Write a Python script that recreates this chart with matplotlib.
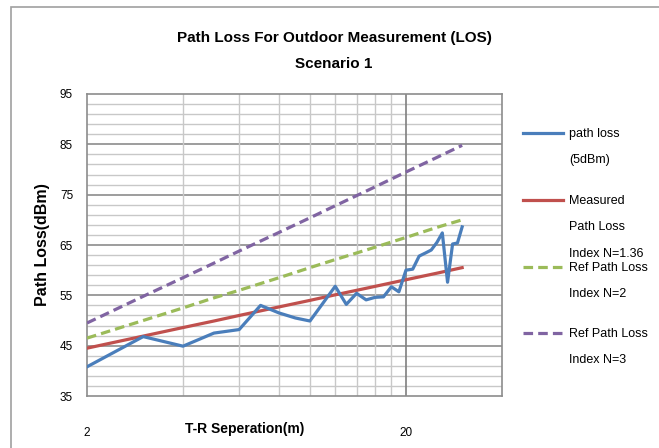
import numpy as np
import matplotlib
matplotlib.use('Agg')
import matplotlib.pyplot as plt
from matplotlib.lines import Line2D
from matplotlib.patches import Rectangle

# distances (m)
distance = [2, 3, 4, 5, 6, 7, 8, 9, 10, 11, 12, 13, 14, 15, 16, 17, 18, 19, 20,
            21, 22, 23, 24, 25, 26, 27, 28, 29, 30]
# measured path loss (5dBm)
path_loss = [40.8, 46.8, 44.9, 47.5, 48.2, 53.0, 51.5, 50.5, 49.9, 53.5, 56.8, 53.2,
             55.4, 54.1, 54.6, 54.7, 56.7, 55.7, 60.0, 60.2, 62.8, 63.4, 64.0, 65.5,
             67.4, 57.6, 65.2, 65.4, 68.6]
# fitted / reference path loss lines
ref_d = [2, 3, 4, 5, 6, 8, 10, 12, 15, 20, 25, 30]
measured_n136 = [44.5, 46.9, 48.6, 49.9, 51.0, 52.7, 54.0, 55.1, 56.4, 58.1, 59.4, 60.5]
ref_n2 = [46.5, 50.0, 52.5, 54.5, 56.0, 58.5, 60.5, 62.1, 64.0, 66.5, 68.5, 70.0]
ref_n3 = [49.5, 54.8, 58.5, 61.4, 63.8, 67.5, 70.4, 72.8, 75.7, 79.5, 82.4, 84.8]

yticks = [35, 45, 55, 65, 75, 85, 95]

c_blue = '#4a7ebb'
c_red = '#c0504d'
c_green = '#9bbb59'
c_purple = '#8064a2'

plt.rcParams['font.family'] = ['Liberation Sans', 'DejaVu Sans']

fig = plt.figure(figsize=(6.59, 4.48), dpi=100)
fig.patches.append(Rectangle((11 / 659, -0.1), 1.0, 1.0 - 7 / 448 + 0.1,
                             transform=fig.transFigure, fill=False,
                             edgecolor='#a0a0a0', linewidth=1.2))
ax = fig.add_axes([87 / 659, 1 - 396 / 448, (502 - 87) / 659, (396 - 94) / 448])

ax.plot(distance, path_loss, color=c_blue, lw=2.3, zorder=5)
ax.plot(ref_d, measured_n136, color=c_red, lw=2.3, zorder=4)
ax.plot(ref_d, ref_n2, color=c_green, lw=2.3, ls=(0, (3, 1.6)), zorder=3)
ax.plot(ref_d, ref_n3, color=c_purple, lw=2.3, ls=(0, (3, 1.6)), zorder=3)

ax.set_xscale('log')
ax.set_xlim(2, 40)
ax.set_ylim(35, 95)

# grid lines
for y in range(37, 95, 2):
    if (y - 35) % 10 != 0:
        ax.axhline(y, color='#c8c8c8', lw=1.0, zorder=1)
for y in yticks[1:-1]:
    ax.axhline(y, color='#8c8c8c', lw=1.2, zorder=1)
for x in range(4, 20, 2):
    ax.axvline(x, color='#c8c8c8', lw=1.0, zorder=1)
ax.axvline(20, color='#7f7f7f', lw=1.2, zorder=1)

ax.set_xticks([2, 20])
ax.set_xticklabels(['2', '20'])
ax.xaxis.set_minor_locator(matplotlib.ticker.NullLocator())
ax.set_yticks(yticks)
ax.tick_params(axis='both', length=0, labelsize=8.5)
ax.tick_params(axis='x', pad=22)
ax.tick_params(axis='y', pad=10)
for s in ax.spines.values():
    s.set_color('#8c8c8c')
    s.set_linewidth(1.2)

fig.text(245 / 659, 1 - 429 / 448, 'T-R Seperation(m)', ha='center', va='center',
         fontsize=10, fontweight='bold')
fig.text(42 / 659, 1 - 245 / 448, 'Path Loss(dBm)', ha='center', va='center',
         rotation=90, fontsize=11.5, fontweight='bold')

fig.text(334 / 659, 1 - 38 / 448, 'Path Loss For Outdoor Measurement (LOS)',
         ha='center', va='center', fontsize=11, fontweight='bold')
fig.text(334 / 659, 1 - 64 / 448, 'Scenario 1',
         ha='center', va='center', fontsize=11, fontweight='bold')

# legend drawn by hand
legend_items = [
    ('path loss\n(5dBm)', c_blue, '-', 133),
    ('Measured\nPath Loss\nIndex N=1.36', c_red, '-', 200),
    ('Ref Path Loss\nIndex N=2', c_green, (0, (3, 1.6)), 267),
    ('Ref Path Loss\nIndex N=3', c_purple, (0, (3, 1.6)), 333),
]
for label, color, ls, ypx in legend_items:
    yf = 1 - ypx / 448
    fig.add_artist(Line2D([523 / 659, 563 / 659], [yf, yf], color=color, lw=2.3, ls=ls,
                          transform=fig.transFigure))
    fig.text(569 / 659, yf + 5 / 448, label, ha='left', va='top', fontsize=9,
             linespacing=2.6)

fig.savefig('out.png', dpi=100)
